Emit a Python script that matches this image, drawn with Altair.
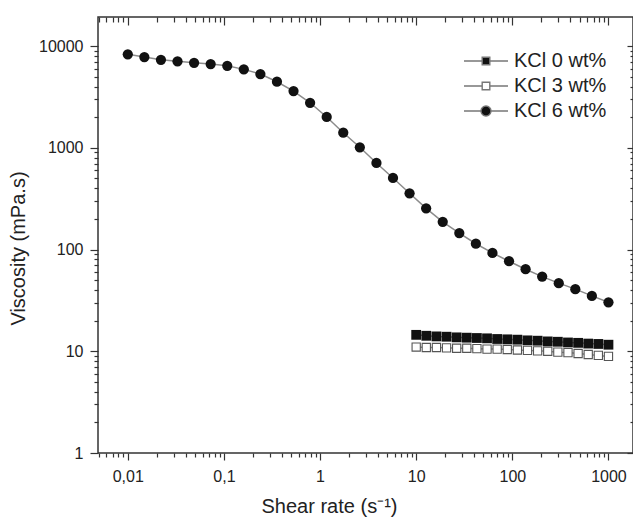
import altair as alt
import pandas as pd

# ---- data ----
series_names = ["KCl 0 wt%", "KCl 3 wt%", "KCl 6 wt%"]

shear_6 = [0.01, 0.01487, 0.02212, 0.0329, 0.04894, 0.07279, 0.1083, 0.161, 0.2395, 0.3562,
           0.5298, 0.788, 1.172, 1.743, 2.593, 3.857, 5.737, 8.533, 12.69, 18.88,
           28.08, 41.76, 62.11, 92.39, 137.4, 204.4, 304.0, 452.2, 672.6, 1000]
visc_6 = [8290, 7800, 7330, 7080, 6850, 6650, 6400, 5900, 5310, 4460,
          3610, 2770, 2010, 1407, 1011, 710, 505, 357, 254, 187,
          145, 114, 92.6, 76.7, 64.0, 54.2, 46.7, 40.8, 35.0, 30.3]

shear_low = [10, 12.74, 16.24, 20.69, 26.37, 33.6, 42.81, 54.56, 69.52, 88.59,
             112.9, 143.8, 183.3, 233.6, 297.6, 379.3, 483.3, 615.8, 784.8, 1000]
visc_0 = [14.5, 14.2, 14.0, 13.9, 13.7, 13.6, 13.5, 13.4, 13.2, 13.1,
          13.0, 12.8, 12.7, 12.5, 12.4, 12.2, 12.1, 11.9, 11.8, 11.6]
visc_3 = [11.0, 10.9, 10.9, 10.8, 10.7, 10.7, 10.6, 10.5, 10.5, 10.4,
          10.3, 10.2, 10.1, 10.0, 9.8, 9.7, 9.5, 9.3, 9.1, 8.9]

x_major = [0.01, 0.1, 1, 10, 100, 1000]
y_major = [1, 10, 100, 1000, 10000]
X_DOMAIN = [0.0049, 1800]
Y_DOMAIN = [1, 19300]

# ---- tables ----
df0 = pd.DataFrame({"x": shear_low, "y": visc_0, "series": series_names[0]})
df3 = pd.DataFrame({"x": shear_low, "y": visc_3, "series": series_names[1]})
df6 = pd.DataFrame({"x": shear_6, "y": visc_6, "series": series_names[2]})
all_df = pd.concat([df0, df3, df6], ignore_index=True)
leg_df = pd.DataFrame({"series": series_names, "x": [1e6] * 3, "y": [10] * 3})

def all_ticks(lo, hi):
    out = []
    for d in range(-3, 5):
        for k in range(1, 10):
            v = float(f"{k}e{d}")
            if lo <= v <= hi:
                out.append(v)
    return out

x_all = all_ticks(*X_DOMAIN)
y_all = all_ticks(*Y_DOMAIN)
x_minor = [v for v in x_all if v not in x_major]
y_minor = [v for v in y_all if v not in y_major]

FONT = "Liberation Sans"
MAJOR = "abs(log(datum.value)/LN10 - round(log(datum.value)/LN10)) < 0.001"
LABEL = f"({MAJOR}) ? replace(format(datum.value, '~g'), '.', ',') : ''"

xs = alt.Scale(type="log", domain=X_DOMAIN, nice=False)
ys = alt.Scale(type="log", domain=Y_DOMAIN, nice=False)

bottom_axis = alt.Axis(values=x_all, tickSize={"condition": {"test": MAJOR, "value": 7}, "value": 4},
                       labelExpr=LABEL, labelFontSize=16, labelPadding=8, labelFlush=False,
                       labelOverlap=False, domain=False, grid=False,
                       title="Shear rate (s⁻¹)", titleFontSize=20, titleX=231, titleY=59,
                       titleBaseline="alphabetic", titleAnchor="middle")
left_axis = alt.Axis(values=y_all, tickSize={"condition": {"test": MAJOR, "value": 8}, "value": 4},
                     labelExpr=LABEL, labelFontSize=16, labelPadding=7, labelFlush=False,
                     labelOverlap=False, domain=False, grid=False,
                     title="Viscosity (mPa.s)", titleFontSize=20, titleX=-80, titleY=231,
                     titleBaseline="middle", titleAngle=270)
top_major = alt.Axis(orient="top", values=x_major, tickSize=8, offset=-8, labels=False,
                     domain=False, grid=False, title=None)
top_minor = alt.Axis(orient="top", values=x_minor, tickSize=5, offset=-5, labels=False,
                     domain=False, grid=False, title=None)
right_major = alt.Axis(orient="right", values=y_major, tickSize=6, offset=-6, labels=False,
                       domain=False, grid=False, title=None)
right_minor = alt.Axis(orient="right", values=y_minor, tickSize=3, offset=-3, labels=False,
                       domain=False, grid=False, title=None)

line = alt.Chart(all_df).mark_line(color="#8c8c8c", strokeWidth=1.5).encode(
    x=alt.X("x:Q", scale=xs, axis=bottom_axis),
    y=alt.Y("y:Q", scale=ys, axis=left_axis),
    detail="series:N",
)

circles = alt.Chart(df6).mark_point(shape="circle", filled=True, color="#111", size=105, opacity=1).encode(
    x=alt.X("x:Q", scale=xs, axis=top_major),
    y=alt.Y("y:Q", scale=ys, axis=right_major),
)

sq_filled = alt.Chart(df0).mark_point(shape="square", filled=True, color="#111", size=96, opacity=1).encode(
    x=alt.X("x:Q", scale=xs, axis=top_minor),
    y=alt.Y("y:Q", scale=ys, axis=right_minor),
)

sq_open = alt.Chart(df3).mark_point(shape="square", filled=False, fill="#ffffff", stroke="#555",
                                    strokeWidth=1.1, size=68, opacity=1).encode(
    x=alt.X("x:Q", scale=xs, axis=None),
    y=alt.Y("y:Q", scale=ys, axis=None),
)

paths = [
    "M-2.2,0H-0.38M0.38,0H2.2M-0.38,-0.38H0.38V0.38H-0.38Z",
    "M-2.2,0H-0.38M0.38,0H2.2M-0.38,-0.38H0.38V0.38H-0.38Z",
    "M-2.2,0H-0.5M0.5,0H2.2M0.5,0A0.5,0.5,0,1,1,-0.5,0A0.5,0.5,0,1,1,0.5,0Z",
]
leg = alt.Legend(title=None, orient="none", legendX=377, legendY=33, labelFontSize=20,
                 labelFont=FONT, labelColor="#222", symbolSize=400,
                 symbolStrokeWidth=1.4, labelOffset=17, rowPadding=4, padding=0)

legend_layer = alt.Chart(leg_df).mark_point(filled=False, strokeWidth=1.4,
                                            clip=True, opacity=1).encode(
    x=alt.X("x:Q", scale=xs, axis=None),
    y=alt.Y("y:Q", scale=ys, axis=None),
    shape=alt.Shape("series:N", scale=alt.Scale(domain=series_names, range=paths), legend=leg),
    fill=alt.Fill("series:N", scale=alt.Scale(domain=series_names, range=["#111", "#ffffff", "#111"]),
                  legend=leg),
    stroke=alt.Stroke("series:N", scale=alt.Scale(domain=series_names, range=["#777", "#777", "#777"]),
                      legend=leg),
)

chart = alt.layer(line, circles, sq_filled, sq_open, legend_layer).resolve_axis(
    x="independent", y="independent"
).properties(
    width=535, height=436,
    autosize=alt.AutoSizeParams(type="none"),
    padding={"left": 98, "top": 17, "right": 0, "bottom": 65},
).configure_view(
    stroke="#333", strokeWidth=1.5
).configure_axis(
    labelFont=FONT, titleFont=FONT, labelColor="#222", titleColor="#222",
    tickColor="#333", tickWidth=1.2, titleFontWeight="normal",
)

chart.save("out.html", embed_options={"renderer": "svg", "actions": False})
